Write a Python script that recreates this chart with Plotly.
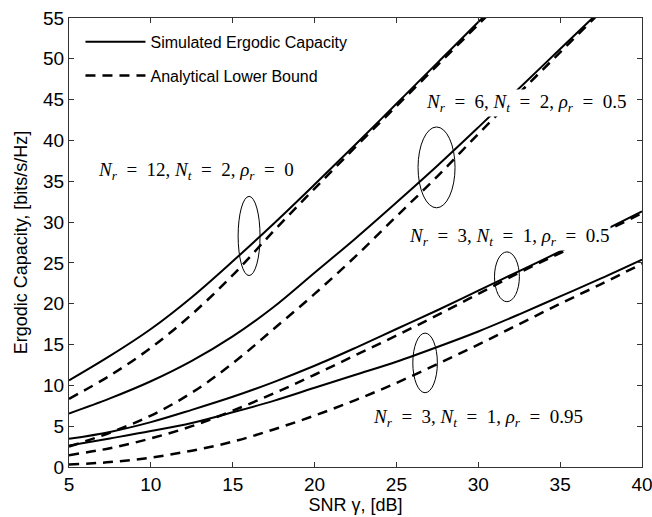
import plotly.graph_objects as go

# SNR grid in dB
snr_db = [5, 7.5, 10, 12.5, 15, 17.5, 20, 22.5, 25, 27.5, 30, 32.5, 35, 37.5, 40]

# Nr=12, Nt=2, rho=0
sim_12_2_0 = [10.6, 13.6, 16.9, 20.8, 25.2, 29.8, 34.6, 39.5, 44.5, 49.5, 54.5, 59.5]
lb_12_2_0 = [8.35, 11.2, 14.6, 18.7, 23.5, 28.9, 34.1, 39.2, 44.2, 49.2, 54.2, 59.2]

# Nr=6, Nt=2, rho=0.5
sim_6_2_05 = [6.55, 8.4, 10.5, 13.0, 16.0, 19.6, 23.8, 28.0, 32.4, 36.9, 41.6, 46.4, 51.2, 56.0]
lb_6_2_05 = [2.5, 4.2, 6.3, 9.1, 12.7, 16.9, 21.2, 25.8, 30.7, 35.6, 40.8, 45.8, 50.8, 55.8]

# Nr=3, Nt=1, rho=0.5
sim_3_1_05 = [3.45, 4.3, 5.5, 7.0, 8.6, 10.4, 12.4, 14.6, 16.9, 19.2, 21.6, 24.0, 26.4, 28.8, 31.3]
lb_3_1_05 = [1.45, 2.3, 3.5, 5.0, 6.9, 9.0, 11.3, 13.7, 16.1, 18.6, 21.2, 23.8, 26.2, 28.6, 31.1]

# Nr=3, Nt=1, rho=0.95
sim_3_1_095 = [2.63, 3.5, 4.4, 5.4, 6.7, 8.1, 9.7, 11.3, 12.9, 14.7, 16.6, 18.7, 20.9, 23.1, 25.4]
lb_3_1_095 = [0.3, 0.6, 1.15, 2.0, 3.1, 4.6, 6.3, 8.2, 10.3, 12.6, 15.0, 17.5, 20.0, 22.4, 24.9]

pairs = [
    (sim_12_2_0, lb_12_2_0),
    (sim_6_2_05, lb_6_2_05),
    (sim_3_1_05, lb_3_1_05),
    (sim_3_1_095, lb_3_1_095),
]

SANS = "Liberation Sans, Arial, sans-serif"
SERIF = "Liberation Serif, Times New Roman, serif"

fig = go.Figure()
for i, (sim, lb) in enumerate(pairs):
    fig.add_trace(go.Scatter(
        x=snr_db[:len(sim)], y=sim, mode="lines", line_shape="spline",
        line={"color": "black", "width": 2},
        name="Simulated Ergodic Capacity", legendgroup="sim", showlegend=(i == 0),
    ))
for i, (sim, lb) in enumerate(pairs):
    fig.add_trace(go.Scatter(
        x=snr_db[:len(lb)], y=lb, mode="lines", line_shape="spline",
        line={"color": "black", "width": 2.5, "dash": "10px,7px"},
        name="Analytical Lower Bound", legendgroup="lb", showlegend=(i == 0),
    ))

EQ = "&nbsp;&nbsp;=&nbsp;&nbsp;"


def label(nr, nt, rho):
    return (f"<i>N</i><sub><i>r</i></sub>{EQ}{nr}, <i>N</i><sub><i>t</i></sub>{EQ}{nt}, "
            f"<i>ρ</i><sub><i>r</i></sub>{EQ}{rho}")


annotations = [
    (12.75, 36.2, label(12, 2, 0)),
    (32.9, 44.6, label(6, 2, 0.5)),
    (31.9, 28.2, label(3, 1, 0.5)),
    (30.0, 6.0, label(3, 1, 0.95)),
]
for ax, ay, text in annotations:
    fig.add_annotation(
        x=ax, y=ay, text=text, showarrow=False, bgcolor="white", borderpad=1,
        font={"family": SERIF, "size": 19, "color": "black"},
    )

ellipses = [(16.0, 28.3, 0.67, 4.85), (27.45, 36.7, 1.13, 4.95),
            (31.75, 23.3, 0.76, 3.05), (26.75, 12.75, 0.75, 3.65)]
for cx, cy, hw, hh in ellipses:
    fig.add_shape(type="circle", xref="x", yref="y",
                  x0=cx - hw, x1=cx + hw, y0=cy - hh, y1=cy + hh,
                  line={"color": "black", "width": 1})

axis_common = dict(
    showgrid=False, zeroline=False, showline=True, mirror="ticks", automargin=False,
    linecolor="#333333", linewidth=1, ticks="inside", ticklen=5,
    tickcolor="#333333", ticklabeloverflow="allow",
    tickfont={"family": SANS, "size": 19, "color": "black"},
)
fig.update_xaxes(range=[5, 40], dtick=5, title={"text": "SNR γ, [dB]", "standoff": 4,
                 "font": {"family": SANS, "size": 18, "color": "black"}}, **axis_common)
fig.update_yaxes(range=[0, 55], dtick=5, title={"text": "Ergodic Capacity, [bits/s/Hz]", "standoff": 10,
                 "font": {"family": SANS, "size": 18, "color": "black"}}, **axis_common)

fig.update_layout(
    width=652, height=517,
    margin={"l": 69, "r": 10, "t": 18, "b": 50},
    plot_bgcolor="white", paper_bgcolor="white",
    legend={"x": 0.02, "y": 0.985, "xanchor": "left", "yanchor": "top",
            "bgcolor": "rgba(255,255,255,0)", "tracegroupgap": 10, "itemwidth": 60,
            "font": {"family": SANS, "size": 16, "color": "black"}},
)

fig.write_html(
    "out.html",
    config={"displayModeBar": False},
    post_script="document.body.style.margin = '0px';",
)
